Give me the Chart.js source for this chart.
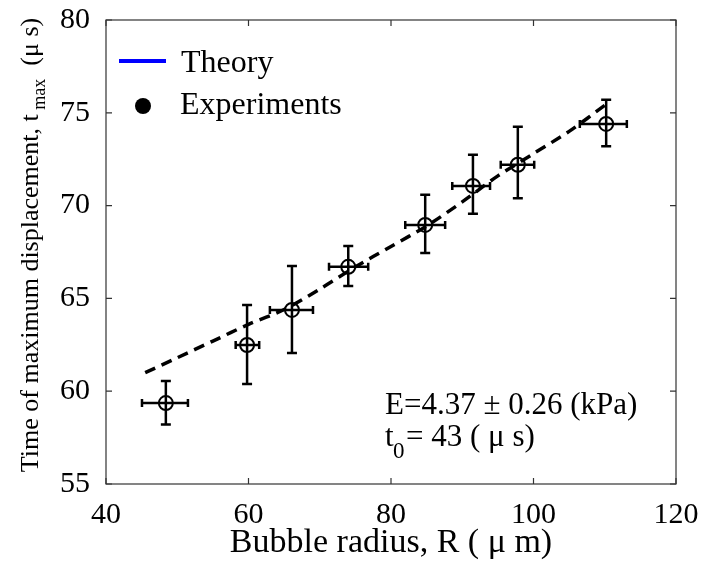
<!DOCTYPE html>
<html>
<head>
<meta charset="utf-8">
<script src="https://cdn.jsdelivr.net/npm/chart.js@4.4.1/dist/chart.umd.min.js"></script>
<style>
  html, body { margin: 0; padding: 0; background: #fff; }
  #wrap { width: 701px; height: 563px; }
</style>
</head>
<body>
<div id="wrap"><canvas id="bubbleChart" width="701" height="563"></canvas></div>
<script>
// bubble radius (um) and time of max displacement (us)
const radius = [48.4, 59.8, 66.1, 74.0, 84.8, 91.5, 97.8, 110.2];
const radiusLow = [45.05, 58.2, 63.0, 71.3, 82.0, 88.6, 95.4, 106.5];
const radiusHigh = [51.5, 61.5, 69.05, 76.8, 87.6, 93.9, 100.1, 113.1];
const tmax = [59.36, 62.49, 64.38, 66.7, 68.96, 71.06, 72.2, 74.4];
const tmaxLow = [58.2, 60.39, 62.06, 65.67, 67.45, 69.56, 70.4, 73.2];
const tmaxHigh = [60.55, 64.64, 66.75, 67.83, 70.58, 72.74, 74.25, 75.7];

// theory curve
const theoryR = [45.5, 50, 55, 60, 65, 70, 75, 80, 85, 90, 95, 100, 105, 110];
const theoryT = [61.0, 61.8, 62.7, 63.6, 64.4, 65.5, 66.7, 67.8, 68.9, 70.2, 71.6, 72.8, 74.0, 75.4];

const xTicks = [40, 60, 80, 100, 120];
const yTicks = [55, 60, 65, 70, 75, 80];

const serif = "'Liberation Serif', 'Times New Roman', serif";

const ctx = document.getElementById("bubbleChart").getContext("2d");

function noPad(s) {
  s.paddingLeft = 0;
  s.paddingRight = 0;
  s.paddingTop = 0;
  s.paddingBottom = 0;
}

// error bars, box, inward ticks, legend and text
const figurePlugin = {
  id: "figure",
  beforeDatasetsDraw(chart) {
    const c = chart.ctx;
    const xs = chart.scales.x;
    const ys = chart.scales.y;
    c.save();
    c.strokeStyle = "#000";
    c.lineWidth = 2.5;
    for (let i = 0; i < radius.length; i++) {
      const px = xs.getPixelForValue(radius[i]);
      const py = ys.getPixelForValue(tmax[i]);
      const top = ys.getPixelForValue(tmaxHigh[i]);
      const bot = ys.getPixelForValue(tmaxLow[i]);
      const l = xs.getPixelForValue(radiusLow[i]);
      const r = xs.getPixelForValue(radiusHigh[i]);
      c.beginPath();
      c.moveTo(px, top); c.lineTo(px, bot);
      c.moveTo(px - 5, top); c.lineTo(px + 5, top);
      c.moveTo(px - 5, bot); c.lineTo(px + 5, bot);
      c.moveTo(l, py); c.lineTo(r, py);
      c.moveTo(l, py - 4); c.lineTo(l, py + 4);
      c.moveTo(r, py - 4); c.lineTo(r, py + 4);
      c.stroke();
    }
    c.restore();
  },
  afterDraw(chart) {
    const c = chart.ctx;
    const a = chart.chartArea;
    const xs = chart.scales.x;
    const ys = chart.scales.y;
    c.save();
    c.strokeStyle = "#333";
    c.lineWidth = 1.2;
    c.strokeRect(a.left, a.top, a.right - a.left, a.bottom - a.top);
    c.beginPath();
    xTicks.forEach(v => {
      const px = xs.getPixelForValue(v);
      c.moveTo(px, a.bottom); c.lineTo(px, a.bottom - 6);
      c.moveTo(px, a.top); c.lineTo(px, a.top + 6);
    });
    yTicks.forEach(v => {
      const py = ys.getPixelForValue(v);
      c.moveTo(a.left, py); c.lineTo(a.left + 6, py);
      c.moveTo(a.right, py); c.lineTo(a.right - 6, py);
    });
    c.stroke();

    // legend
    c.fillStyle = "#000";
    c.font = "32px " + serif;
    c.textBaseline = "alphabetic";
    c.textAlign = "left";
    c.strokeStyle = "#0000ff";
    c.lineWidth = 4;
    c.beginPath();
    c.moveTo(119, 61); c.lineTo(166, 61);
    c.stroke();
    c.fillText("Theory", 181, 72);
    c.beginPath();
    c.arc(143, 106, 8, 0, Math.PI * 2);
    c.fill();
    c.fillText("Experiments", 180, 114);

    // annotation
    c.font = "31px " + serif;
    c.fillText("E=4.37 \u00b1 0.26 (kPa)", 385, 414);
    c.fillText("t", 385, 446);
    c.font = "23px " + serif;
    c.fillText("0", 393, 458);
    c.font = "31px " + serif;
    c.fillText("= 43 ( \u03bc s)", 406, 446);

    // y title with subscript
    c.translate(31, 245);
    c.rotate(-Math.PI / 2);
    c.textAlign = "left";
    const part1 = "Time of maximum displacement, t";
    c.font = "26px " + serif;
    const w1 = c.measureText(part1).width;
    c.font = "18px " + serif;
    const w2 = c.measureText(" max").width;
    c.font = "26px " + serif;
    const w3 = c.measureText("  (\u03bc s)").width;
    const start = -(w1 + w2 + w3) / 2;
    c.textBaseline = "middle";
    c.fillText(part1, start, 0);
    c.font = "18px " + serif;
    c.fillText(" max", start + w1, 9);
    c.font = "26px " + serif;
    c.fillText("  (\u03bc s)", start + w1 + w2, 0);
    c.restore();
  }
};

const bubbleChart = new Chart(ctx, {
  type: "scatter",
  data: {
    datasets: [
      {
        label: "Theory",
        data: theoryR.map((r, i) => ({ x: r, y: theoryT[i] })),
        showLine: true,
        borderColor: "#000",
        borderWidth: 3.5,
        borderDash: [11, 7],
        pointRadius: 0,
        fill: false,
        tension: 0.3,
      },
      {
        label: "Experiments",
        data: radius.map((r, i) => ({ x: r, y: tmax[i] })),
        showLine: false,
        pointStyle: "circle",
        pointRadius: 7,
        pointBorderWidth: 2,
        pointBorderColor: "#000",
        pointBackgroundColor: "rgba(0,0,0,0)",
      },
    ],
  },
  options: {
    responsive: false,
    animation: false,
    layout: { padding: { top: 20, right: 25, left: 0, bottom: 0 } },
    plugins: {
      legend: { display: false },
      tooltip: { enabled: false },
    },
    scales: {
      x: {
        type: "linear",
        min: 40,
        max: 120,
        afterBuildTicks: (s) => { s.ticks = xTicks.map(v => ({ value: v })); },
        afterFit: (s) => { s.height = 79; noPad(s); },
        grid: { display: false },
        border: { display: false },
        ticks: { color: "#000", font: { family: serif, size: 30 }, padding: 5 },
        title: {
          display: true,
          text: "Bubble radius, R ( \u03bc m)",
          color: "#000",
          font: { family: serif, size: 34 },
          padding: { top: 0, bottom: 0 },
        },
      },
      y: {
        type: "linear",
        min: 55,
        max: 80,
        afterBuildTicks: (s) => { s.ticks = yTicks.map(v => ({ value: v })); },
        afterFit: (s) => { s.width = 106; noPad(s); },
        grid: { display: false },
        border: { display: false },
        ticks: { color: "#000", font: { family: serif, size: 30 }, padding: 8 },
      },
    },
  },
  plugins: [figurePlugin],
});
</script>
</body>
</html>
